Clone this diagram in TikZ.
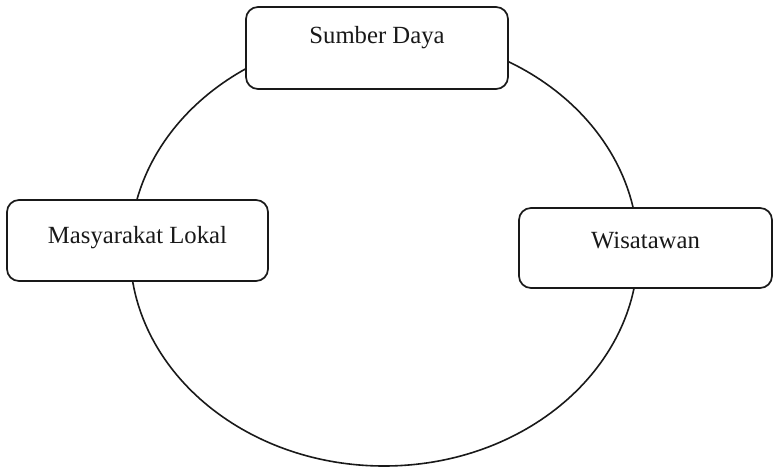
\documentclass[tikz,border=0pt]{standalone}
\usepackage{fontspec}
\setmainfont{Liberation Serif}
\begin{document}
\begin{tikzpicture}[x=1pt,y=-1pt,
  box/.style={draw=black!90, line width=1.7pt, rounded corners=12pt, fill=white,
    inner sep=0pt, anchor=base, font=\fontsize{24.7}{29}\selectfont, text=black!90}]
\useasboundingbox (0,0) rectangle (773,468);
\draw[line width=1.6pt, black!90] (384,250) ellipse [x radius=254pt, y radius=216pt];
\node[box, minimum width=262pt, text height=37pt, text depth=45pt] (sumber) at (377,44) {Sumber Daya};
\node[box, minimum width=261pt, text height=43pt, text depth=38pt] (masy) at (137.5,243) {Masyarakat Lokal};
\node[box, minimum width=253pt, text height=40pt, text depth=40pt] (wisata) at (645.5,248) {Wisatawan};
\end{tikzpicture}
\end{document}
